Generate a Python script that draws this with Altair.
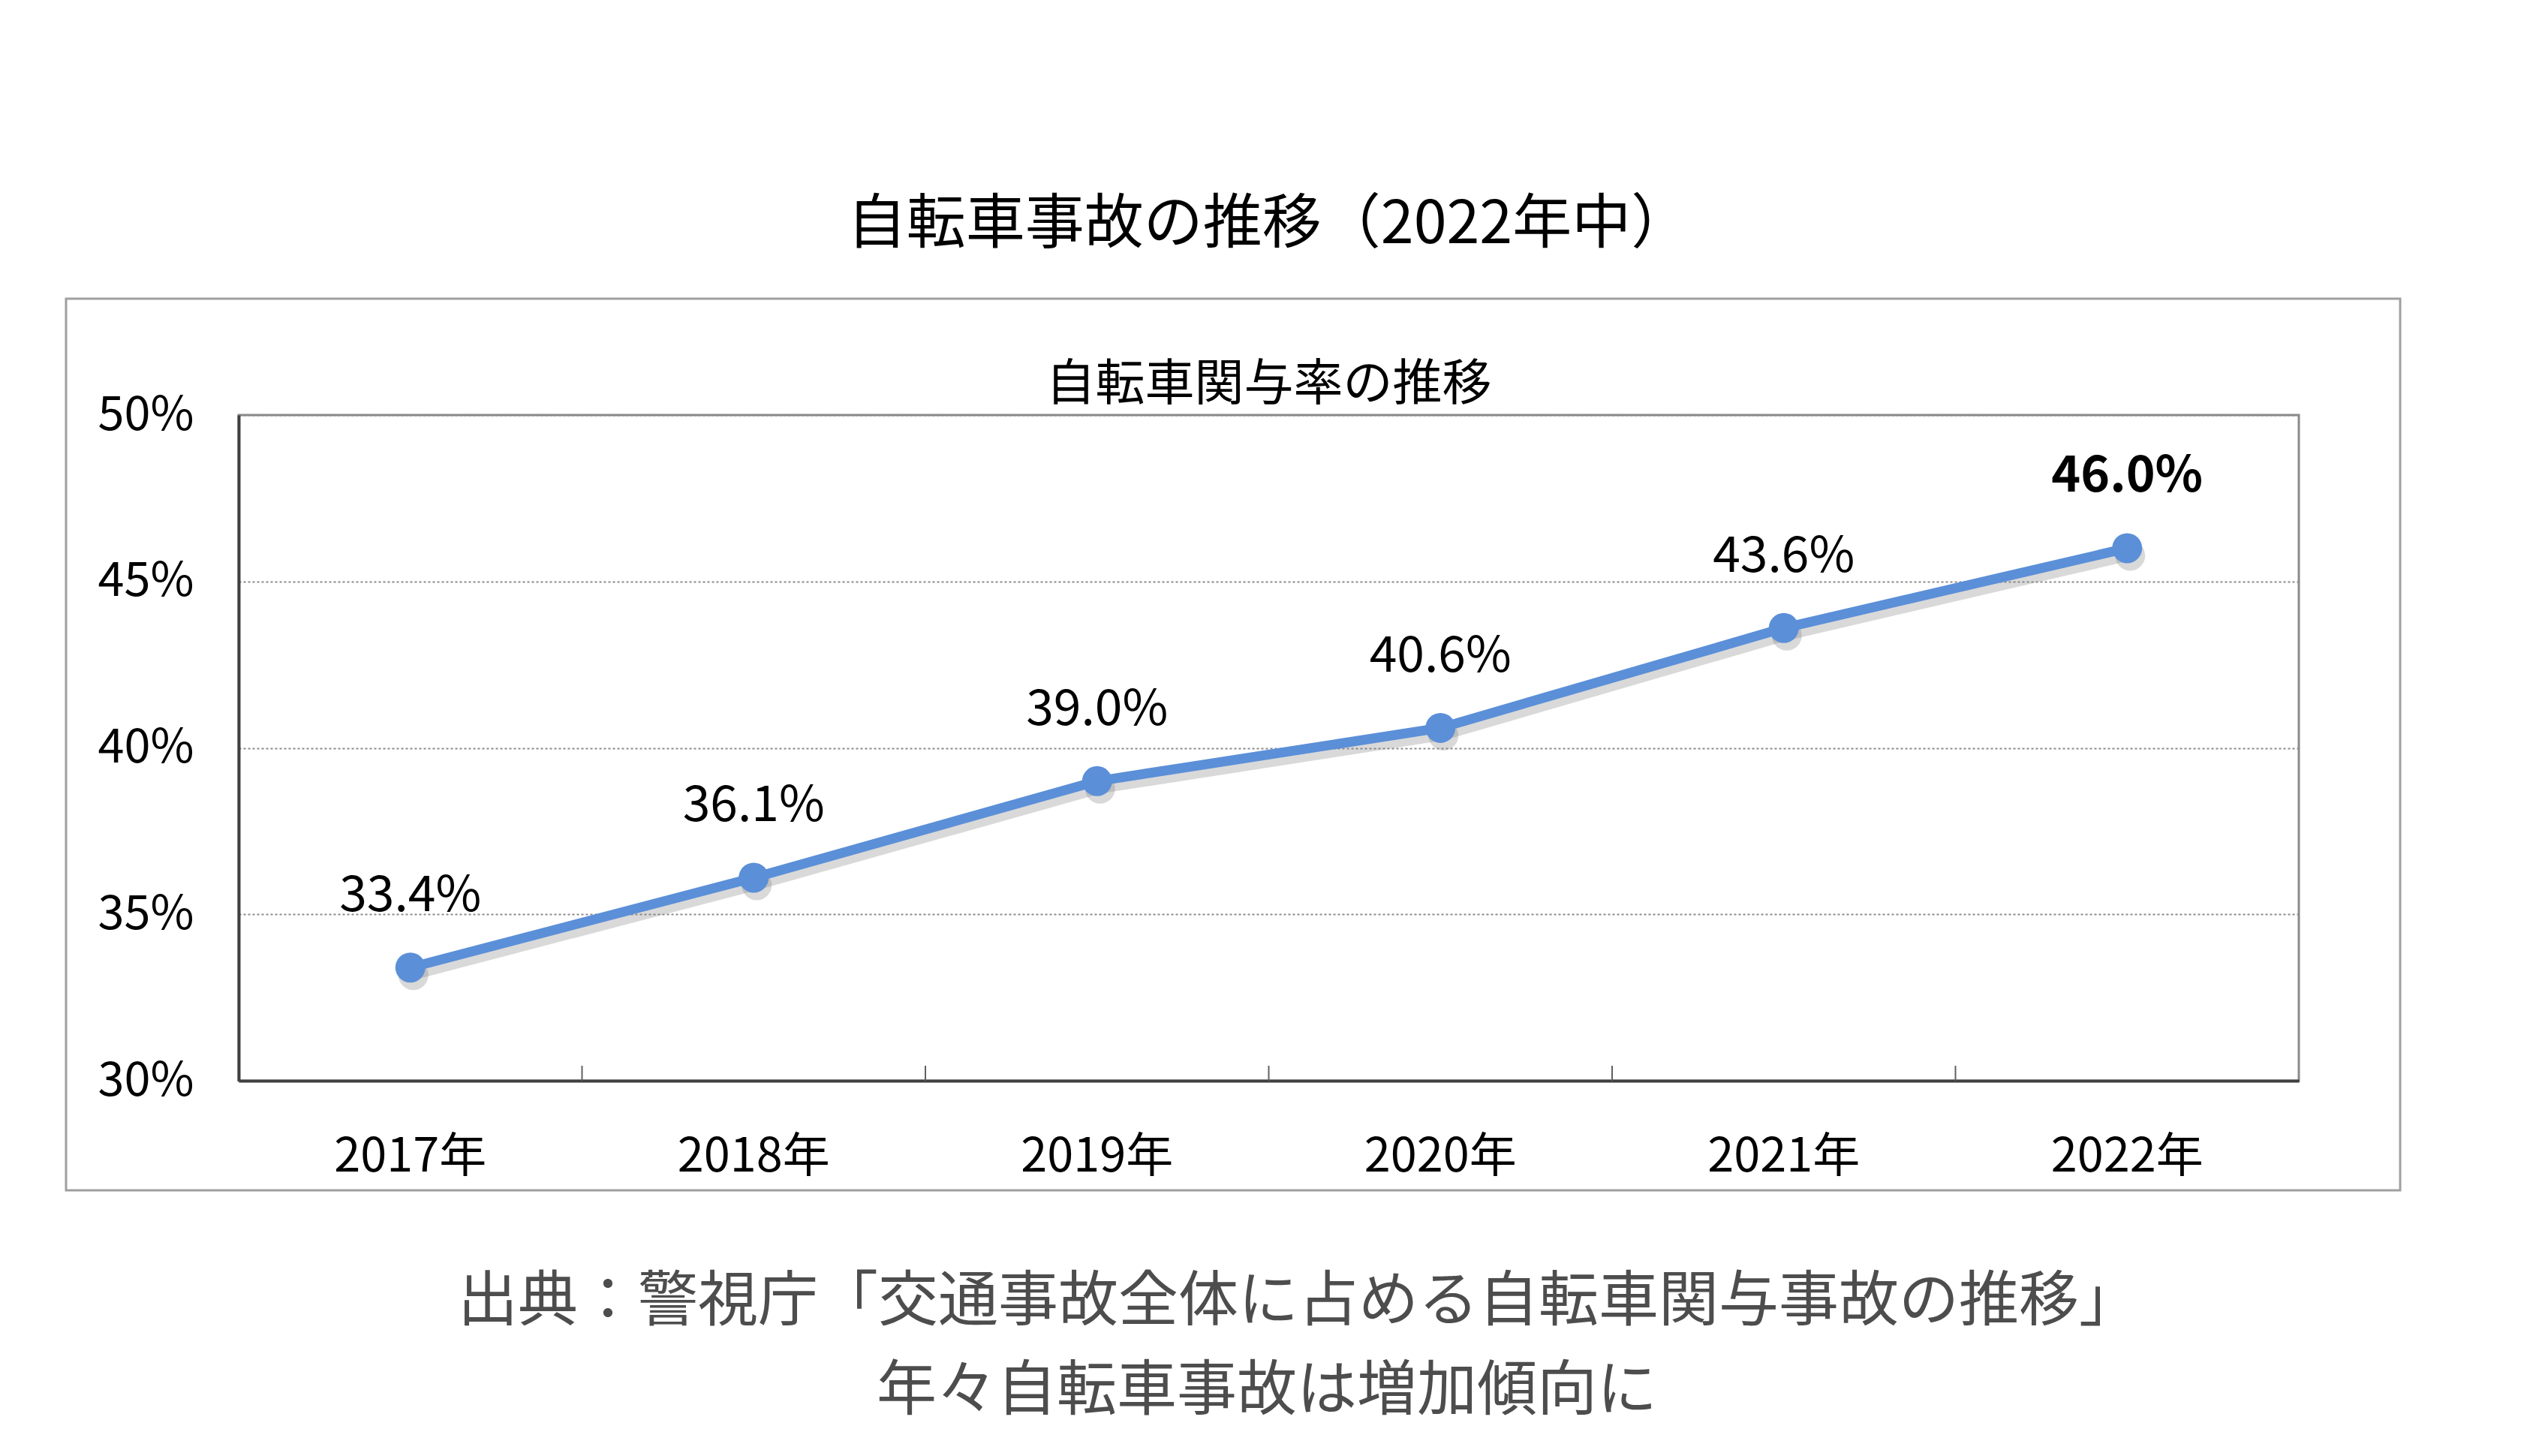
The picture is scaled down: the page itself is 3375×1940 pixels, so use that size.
import altair as alt
import pandas as pd

# ---- data ----
years = ["2017年", "2018年", "2019年", "2020年", "2021年", "2022年"]
rates = [33.4, 36.1, 39.0, 40.6, 43.6, 46.0]
y_ticks = [30, 35, 40, 45, 50]

main_title = "自転車事故の推移（2022年中）"
sub_title = "自転車関与率の推移"
source_line1 = "出典：警視庁「交通事故全体に占める自転車関与事故の推移」"
source_line2 = "年々自転車事故は増加傾向に"

df = pd.DataFrame({"year": years, "rate": rates})
one = pd.DataFrame({"k": [0]})

FONT = "Noto Sans CJK JP"
BLUE = "#5b8fd8"
W, H = 2745, 887

xenc = alt.X(
    "year:N",
    sort=years,
    bandPosition=0.5,
    scale=alt.Scale(type="band", paddingInner=0, paddingOuter=0),
    axis=alt.Axis(title=None, labelAngle=0, ticks=False, labelFontSize=63, labelFont=FONT,
                  labelColor="#000000", labelPadding=70, labelBaseline="top", labelLimit=1000,
                  domainColor="#404040", domainWidth=4, grid=False),
)
yenc = alt.Y(
    "rate:Q",
    scale=alt.Scale(domain=[30, 50], nice=False, zero=False),
    axis=alt.Axis(title=None, values=y_ticks, ticks=False, labelFontSize=63, labelFont=FONT,
                  labelColor="#000000", labelPadding=60, labelExpr="datum.value + '%'",
                  domainColor="#404040", domainWidth=4, grid=True, gridColor="#8a8a8a",
                  gridDash=[3, 3], gridWidth=2),
)

base = alt.Chart(df).encode(x=xenc, y=yenc)

frame = alt.Chart(one).mark_rect(fill="transparent", stroke="#a0a0a0", strokeWidth=3).encode(
    x=alt.value(-230), x2=alt.value(2880), y=alt.value(-155), y2=alt.value(1033)
)

shadow = base.mark_line(color="#808080", opacity=0.3, strokeWidth=13, xOffset=4, yOffset=10)
shadow_pts = base.mark_circle(color="#808080", opacity=0.3, size=1600, xOffset=4, yOffset=10)
line = base.mark_line(color=BLUE, strokeWidth=13)
pts = base.mark_circle(color=BLUE, opacity=1, size=1600)

labels = base.transform_calculate(label="format(datum.rate, '.1f') + '%'")
txt = labels.transform_filter("datum.year != '2022年'").mark_text(
    font=FONT, fontSize=66, color="#000000", dy=-95, baseline="middle"
).encode(text="label:N")
txt_bold = labels.transform_filter("datum.year == '2022年'").mark_text(
    font=FONT, fontSize=66, fontWeight="bold", color="#000000", dy=-95, baseline="middle"
).encode(text="label:N")

ticks = base.transform_filter("datum.year != '2022年'").mark_rule(color="#606060", strokeWidth=2).encode(
    x=alt.X("year:N", sort=years, bandPosition=1),
    y=alt.datum(30),
    y2=alt.datum(30.45),
)

src1 = alt.Chart(one).mark_text(
    text=source_line1, font=FONT, fontSize=80, color="#4d4d4d",
    align="center", baseline="middle"
).encode(x=alt.value(1412), y=alt.value(1182))
src2 = alt.Chart(one).mark_text(
    text=source_line2, font=FONT, fontSize=80, color="#4d4d4d",
    align="center", baseline="middle"
).encode(x=alt.value(1370), y=alt.value(1301))

chart = alt.layer(frame, shadow, shadow_pts, line, pts, txt, txt_bold, ticks, src1, src2).properties(
    width=W,
    height=H,
    autosize=alt.AutoSizeParams(type="none"),
    padding={"left": 310, "top": 545, "right": 300, "bottom": 480},
    title=alt.TitleParams(
        text=main_title, subtitle=sub_title, anchor="middle", frame="group",
        font=FONT, fontSize=79, fontWeight="normal", color="#000000",
        subtitleFont=FONT, subtitleFontSize=66, subtitleColor="#000000",
        subtitlePadding=140, offset=-150,
    ),
).configure_view(stroke="#8a8a8a", strokeWidth=3)

chart.save("out.html", embed_options={"renderer": "svg", "actions": False})
